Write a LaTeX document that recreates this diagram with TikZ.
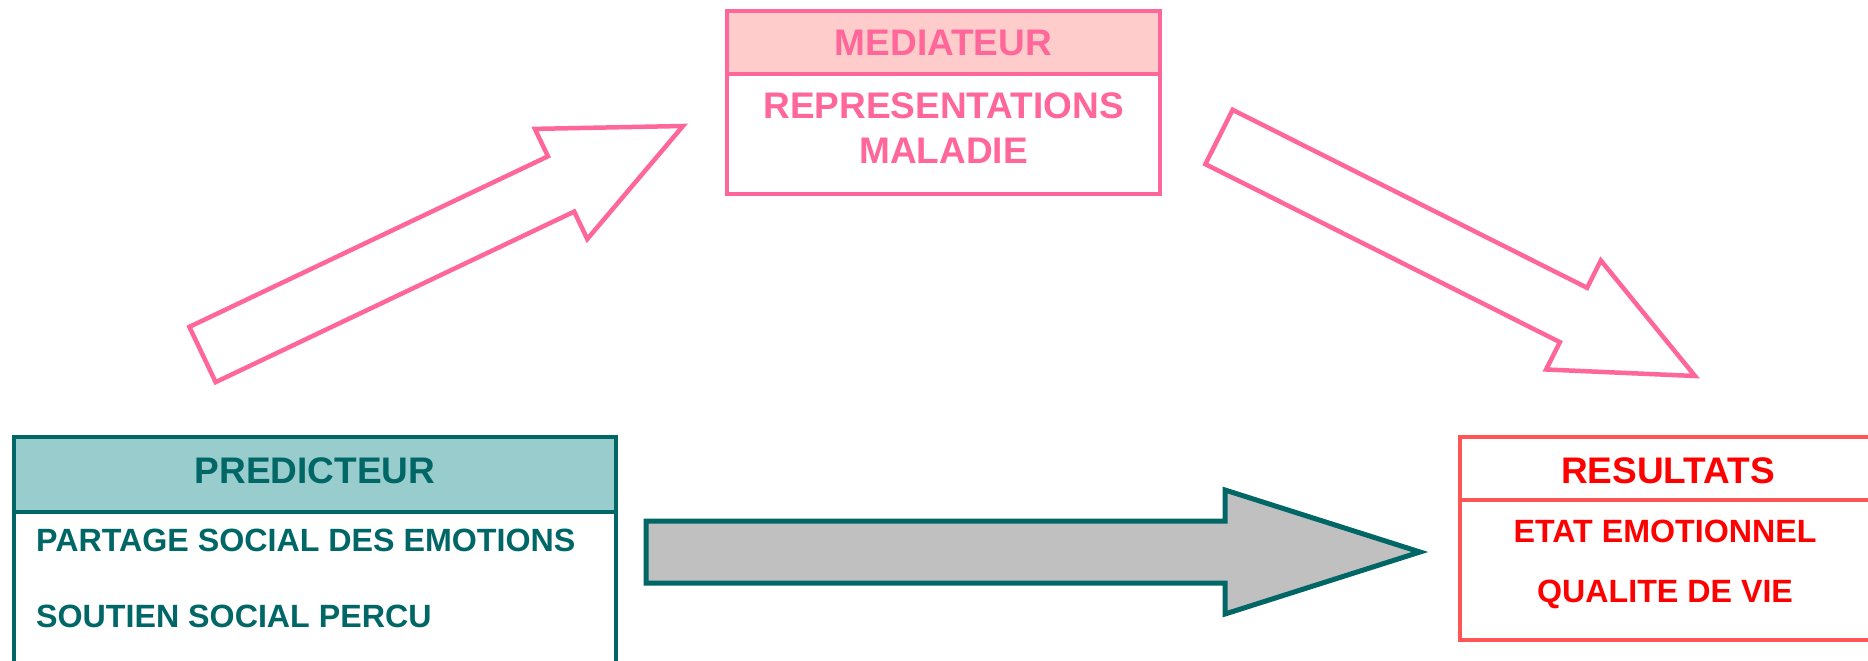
\documentclass[tikz,border=0pt]{standalone}
\usepackage{fontspec}
\setmainfont{Liberation Sans}
\usetikzlibrary{calc, positioning}
\definecolor{tealdark}{HTML}{006666}
\definecolor{teallight}{HTML}{99CCCC}
\definecolor{rose}{HTML}{FF6699}
\definecolor{roselight}{HTML}{FFCCCC}
\definecolor{rouge}{HTML}{FF0000}
\definecolor{rougeline}{HTML}{FF5555}
\definecolor{gris}{HTML}{C0C0C0}
\tikzset{
  titre/.style={font=\fontsize{37}{44}\selectfont\bfseries, inner sep=0pt},
  texte/.style={font=\fontsize{32.2}{38}\selectfont\bfseries, inner sep=0pt},
  cadre/.style={rectangle, draw, line width=4.5pt, inner sep=0pt, outer sep=0pt},
  fleche/.style={draw=rose, fill=white, line width=4.5pt}
}
% style, depart, pointe, demi-largeur du corps, demi-largeur de la tete, longueur de la tete
\newcommand{\blocfleche}[6]{%
  \coordinate (hb) at ($(#3)!#6!(#2)$);
  \draw[#1] ($(#2)!#4!90:(#3)$) -- ($(hb)!#4!90:(#3)$) -- ($(hb)!#5!90:(#3)$) -- (#3)
    -- ($(hb)!#5!-90:(#3)$) -- ($(hb)!#4!-90:(#3)$) -- ($(#2)!#4!-90:(#3)$) -- cycle;
}

\begin{document}
\begin{tikzpicture}[x=1pt, y=-1pt]
    \useasboundingbox (0,0) rectangle (1868,661);
    \clip (0,0) rectangle (1868,661);

    % Predicteur
    \node[cadre, titre, anchor=north west, draw=tealdark, fill=teallight, text=tealdark, text depth=7pt, minimum width=602pt, minimum height=75pt] (predtete) at (14,437) {PREDICTEUR};
    \node[cadre, draw=tealdark, minimum width=602pt, minimum height=200pt, below=0pt of predtete] (predcorps) {};
    \node[texte, text=tealdark, anchor=west] (partage) at (36,540) {PARTAGE SOCIAL DES EMOTIONS};
    \node[texte, text=tealdark, anchor=west] (soutien) at (36,616) {SOUTIEN SOCIAL PERCU};

    % Mediateur
    \node[cadre, titre, anchor=north west, draw=rose, fill=roselight, text=rose, minimum width=433pt, minimum height=63pt] (medtete) at (727,11) {MEDIATEUR};
    \node[cadre, draw=rose, minimum width=433pt, minimum height=120pt, below=0pt of medtete] (medcorps) {};
    \node[titre, text=rose] (repres) at (943.5,106) {REPRESENTATIONS};
    \node[titre, text=rose] (maladie) at (943.5,151) {MALADIE};

    % Resultats
    \node[cadre, titre, anchor=north west, draw=rougeline, text=rouge, text height=31pt, minimum width=416pt, minimum height=63pt] (restete) at (1460,437) {RESULTATS};
    \node[cadre, draw=rougeline, minimum width=416pt, minimum height=140pt, below=0pt of restete] (rescorps) {};
    \node[texte, text=rouge] (etat) at (1665,531) {ETAT EMOTIONNEL};
    \node[texte, text=rouge] (qualite) at (1665,594) {QUALITE DE VIE};

    % Fleches
    \coordinate (grisdebut) at (646,552);
    \coordinate (grisfin) at (1420,552);
    \blocfleche{draw=tealdark, fill=gris, line width=5pt}{grisdebut}{grisfin}{31pt}{62pt}{195pt}

    \coordinate (rosegdebut) at (202.5,354.5);
    \coordinate (rosegfin) at (683,126);
    \blocfleche{fleche}{rosegdebut}{rosegfin}{30.6pt}{61pt}{135pt}

    \coordinate (rosedebut) at (1219,137);
    \coordinate (rosedfin) at (1695,376);
    \blocfleche{fleche}{rosedebut}{rosedfin}{30.4pt}{61pt}{136pt}

\end{tikzpicture}
\end{document}
